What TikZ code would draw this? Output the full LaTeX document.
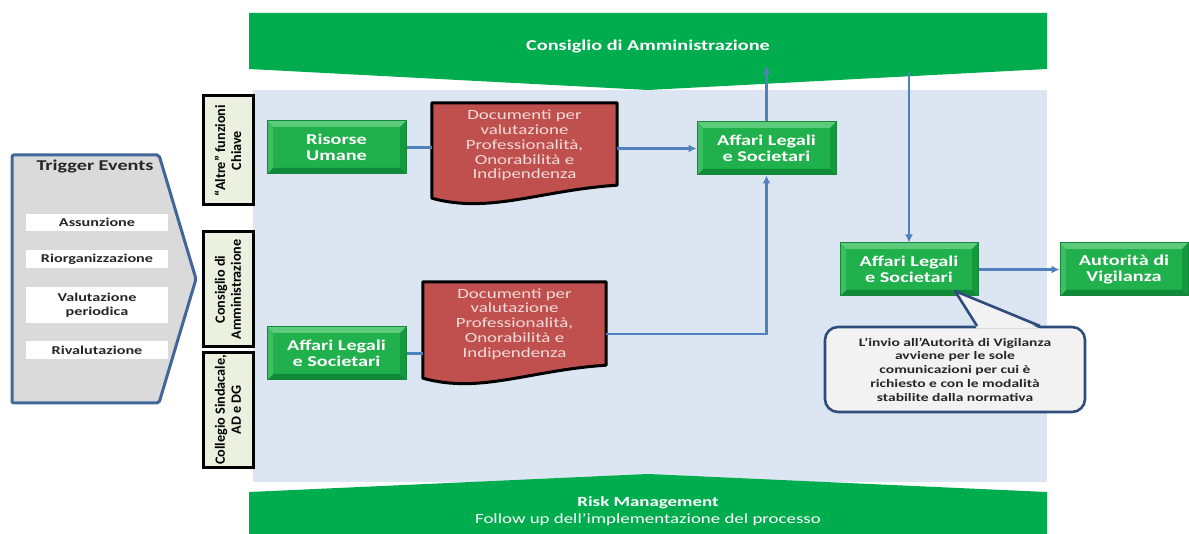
\documentclass[tikz,border=0pt]{standalone}
\usepackage{fontspec}
\setmainfont{Carlito}[FakeStretch=1.35]
\newfontfamily\vfont{Carlito}
\usetikzlibrary{arrows.meta}
\pgfdeclarelayer{bg}
\pgfdeclarelayer{mid}
\pgfsetlayers{bg,mid,main}
\definecolor{bannergreen}{HTML}{00AD4E}
\definecolor{panelblue}{HTML}{DCE6F2}
\definecolor{gface}{HTML}{20B04C}
\definecolor{gtop}{HTML}{5CCB7C}
\definecolor{gleft}{HTML}{3EBE63}
\definecolor{gright}{HTML}{14993F}
\definecolor{gbottom}{HTML}{0F8A38}
\definecolor{gedge}{HTML}{15863A}
\definecolor{docred}{HTML}{C0504D}
\definecolor{doctext}{HTML}{F2DCDB}
\definecolor{labelfill}{HTML}{EBF1DE}
\definecolor{connblue}{HTML}{4F81BD}
\definecolor{trigfill}{HTML}{DADADA}
\definecolor{trigedge}{HTML}{41679A}
\definecolor{callfill}{HTML}{F2F2F2}
\definecolor{calledge}{HTML}{2E4D7B}
\definecolor{darktext}{HTML}{262626}
\tikzset{
  gbox/.style={minimum width=139pt, minimum height=53pt, inner sep=0pt,
    fill=gface, draw=gedge, line width=1pt, text=white, align=center,
    font=\bfseries\fontsize{15}{16}\selectfont,
    path picture={
      \fill[gtop] (path picture bounding box.north west) -- (path picture bounding box.north east)
        -- ([shift={(-6pt,-6pt)}]path picture bounding box.north east)
        -- ([shift={(6pt,-6pt)}]path picture bounding box.north west) -- cycle;
      \fill[gright] (path picture bounding box.north east) -- (path picture bounding box.south east)
        -- ([shift={(-6pt,6pt)}]path picture bounding box.south east)
        -- ([shift={(-6pt,-6pt)}]path picture bounding box.north east) -- cycle;
      \fill[gbottom] (path picture bounding box.south east) -- (path picture bounding box.south west)
        -- ([shift={(6pt,6pt)}]path picture bounding box.south west)
        -- ([shift={(-6pt,6pt)}]path picture bounding box.south east) -- cycle;
      \fill[gleft] (path picture bounding box.south west) -- (path picture bounding box.north west)
        -- ([shift={(6pt,-6pt)}]path picture bounding box.north west)
        -- ([shift={(6pt,6pt)}]path picture bounding box.south west) -- cycle;
    }},
  doctxt/.style={inner sep=0pt, text=doctext, align=center,
    font=\fontsize{14}{14.8}\selectfont},
  docshape/.style={fill=docred, draw=black, line width=3pt, line join=round},
  vlabel/.style={rotate=90, draw=black, fill=labelfill, line width=3pt,
    minimum height=50pt, inner sep=0pt, align=center,
    font=\vfont\bfseries\fontsize{14.2}{16}\selectfont},
  trigitem/.style={fill=white, minimum width=142pt, inner sep=0pt, align=center,
    text=darktext, font=\bfseries\fontsize{12}{14}\selectfont},
  conn/.style={draw=connblue, line width=2.8pt},
  arr/.style={conn, -{Latex[length=8pt,width=8pt]}},
  callbox/.style={fill=callfill, draw=calledge, line width=2.6pt, rounded corners=13pt,
    minimum width=260pt, minimum height=85pt, inner sep=0pt, align=center,
    text=darktext, font=\bfseries\fontsize{11.5}{13.8}\selectfont},
}
\begin{document}
\begin{tikzpicture}[x=1pt,y=-1pt]
\useasboundingbox (0,0) rectangle (1189,534);

\begin{pgfonlayer}{bg}
  % light blue panel
  \fill[panelblue] (253,90) rectangle (1047,482);
  % top banner
  \fill[bannergreen] (249,13) -- (1047,13) -- (1047,69) -- (648,90) -- (249,69) -- cycle;
  % bottom banner
  \fill[bannergreen] (249,492) -- (648,474) -- (1047,492) -- (1047,534) -- (249,534) -- cycle;
  % trigger events arrow shape
  \draw[fill=trigfill, draw=trigedge, line width=3pt, rounded corners=2pt]
    (12,155) -- (159,155) -- (196,279) -- (159,403) -- (12,403) -- cycle;
\end{pgfonlayer}

% banner texts
\node[text=white, font=\bfseries\fontsize{15}{17}\selectfont] (cda) at (648,47) {Consiglio di Amministrazione};
\node[text=white, align=center, font=\fontsize{14}{17}\selectfont] (risk) at (648,511.5)
  {\textbf{Risk Management}\\Follow up dell’implementazione del processo};
\coordinate (cdaIn) at (766.5,66);
\coordinate (cdaOut) at (909,72);

% trigger events
\node[text=darktext, font=\bfseries\fontsize{15}{17}\selectfont] (trig) at (95,167) {Trigger Events};
\node[trigitem, minimum height=17pt] (t1) at (97,222.5) {Assunzione};
\node[trigitem, minimum height=18pt] (t2) at (97,259) {Riorganizzazione};
\node[trigitem, minimum height=36pt] (t3) at (97,305) {Valutazione\\periodica};
\node[trigitem, minimum height=18pt] (t4) at (97,350) {Rivalutazione};

% vertical labels
\node[vlabel, minimum width=109pt] (lab1) at (228,150.5) {“Altre” funzioni\\Chiave};
\node[vlabel, minimum width=115pt] (lab2) at (228,289.5) {Consiglio di\\Amministrazione};
\node[vlabel, minimum width=114pt] (lab3) at (228,410) {Collegio Sindacale,\\AD e DG};

% green boxes
\node[gbox] (ru) at (336.5,147.5) {Risorse\\Umane};
\node[gbox] (al2) at (336.5,353.5) {Affari Legali\\e Societari};
\node[gbox] (al1) at (766.5,148.5) {Affari Legali\\e Societari};
\node[gbox, minimum width=138pt] (al3) at (909,269.5) {Affari Legali\\e Societari};
\node[gbox, minimum width=128pt] (av) at (1124,269.5) {Autorità di\\Vigilanza};

% documents
\node[doctxt, minimum width=185pt, minimum height=85pt] (doc1) at (524.5,145.5)
  {Documenti per\\valutazione\\Professionalità,\\Onorabilità e\\Indipendenza};
\node[doctxt, minimum width=183pt, minimum height=84pt] (doc2) at (514.5,324)
  {Documenti per\\valutazione\\Professionalità,\\Onorabilità e\\Indipendenza};
\begin{pgfonlayer}{mid}
  \draw[docshape] (doc1.north west) -- (doc1.north east) -- ([yshift=3pt]doc1.south east)
    .. controls +(-77pt,-5pt) and +(58pt,-16pt) .. ([yshift=-10pt]doc1.south west) -- cycle;
  \draw[docshape] (doc2.north west) -- (doc2.north east) -- ([yshift=1pt]doc2.south east)
    .. controls +(-77pt,-5pt) and +(58pt,-16pt) .. ([yshift=-12pt]doc2.south west) -- cycle;
\end{pgfonlayer}

% connectors
\draw[conn] (ru.east) -- (ru.east -| doc1.west);
\draw[arr] (al1.west -| doc1.east) -- (al1.west);
\draw[conn] (al2.east) -- (al2.east -| doc2.west);
\draw[arr] ([yshift=-10pt]doc2.east) -| (al1.south);
\draw[arr] (al1.north) -- (cdaIn);
\draw[arr] (cdaOut) -- (al3.north);
\draw[arr] (al3.east) -- (av.west);

% callout
\node[callbox] (note) at (955,369.5)
  {L’invio all’Autorità di Vigilanza\\avviene per le sole\\comunicazioni per cui è\\richiesto e con le modalità\\stabilite dalla normativa};
\coordinate (tip) at (955,291);
\fill[callfill] ([xshift=22pt,yshift=-3pt]note.north) -- (tip) -- ([xshift=85pt,yshift=-3pt]note.north) -- cycle;
\draw[draw=calledge, line width=2.6pt, line join=round] ([xshift=22pt,yshift=-0.3pt]note.north) -- (tip) -- ([xshift=85pt,yshift=-0.3pt]note.north);
\end{tikzpicture}
\end{document}
